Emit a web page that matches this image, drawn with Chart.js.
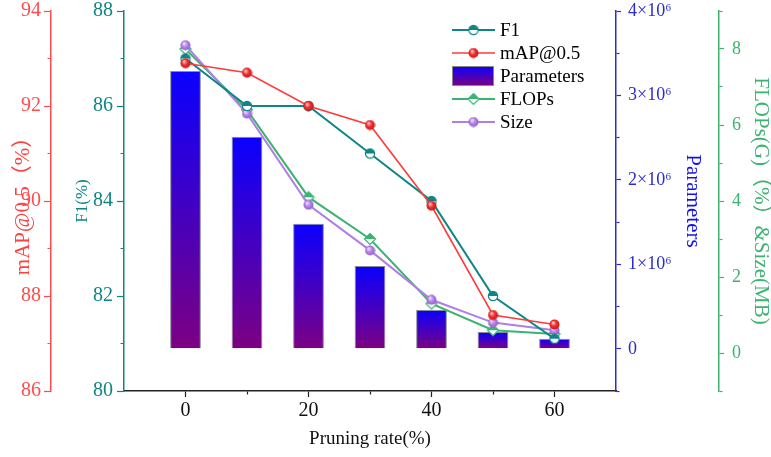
<!DOCTYPE html>
<html>
<head>
<meta charset="utf-8">
<script src="https://cdn.jsdelivr.net/npm/chart.js@4.4.1/dist/chart.umd.min.js"></script>
<style>
  body { margin: 0; background: #fff; }
  canvas { display: block; }
</style>
</head>
<body>
<canvas id="chart" width="771" height="457"></canvas>
<script>
// pruning rate (%) on the x axis
const pruningRates = [0, 10, 20, 30, 40, 50, 60];
const f1Values = [87.0, 86.0, 86.0, 85.0, 84.0, 82.0, 81.1];
const mapValues = [92.9, 92.7, 92.0, 91.6, 89.9, 87.6, 87.4];
const paramValues = [3.29e6, 2.51e6, 1.48e6, 0.98e6, 0.46e6, 0.20e6, 0.12e6];
const flopsValues = [8.0, 6.4, 4.1, 3.0, 1.3, 0.6, 0.5];
const sizeValues = [8.1, 6.3, 3.9, 2.7, 1.4, 0.8, 0.6];

const serif = "'Liberation Serif', 'Times New Roman', 'Noto Sans CJK SC', serif";
const TEAL = "#0f8585";
const RED = "#ff3b3b";
const BLUE = "#2b2bd0";
const GREEN = "#3cb371";
const PURPLE = "#b07ee6";

const pts = (vals) => pruningRates.map((x, i) => ({ x: x, y: vals[i] }));

// marker images
function ball(light, mid, dark) {
    const c = document.createElement("canvas");
    c.width = 11; c.height = 11;
    const g = c.getContext("2d");
    const grad = g.createRadialGradient(4, 3.6, 0.5, 5.5, 5.5, 5.5);
    grad.addColorStop(0, light);
    grad.addColorStop(0.45, mid);
    grad.addColorStop(1, dark);
    g.fillStyle = grad;
    g.beginPath(); g.arc(5.5, 5.5, 5, 0, Math.PI * 2); g.fill();
    return c;
}
function halfCircle(color) {
    const c = document.createElement("canvas");
    c.width = 12; c.height = 12;
    const g = c.getContext("2d");
    g.fillStyle = "#fff";
    g.beginPath(); g.arc(6, 6, 4.6, 0, Math.PI * 2); g.fill();
    g.fillStyle = color;
    g.beginPath(); g.arc(6, 6, 4.6, Math.PI, 0); g.closePath(); g.fill();
    g.strokeStyle = color; g.lineWidth = 1.2;
    g.beginPath(); g.arc(6, 6, 4.6, 0, Math.PI * 2); g.stroke();
    return c;
}
function halfDiamond(color) {
    const c = document.createElement("canvas");
    c.width = 14; c.height = 14;
    const g = c.getContext("2d");
    g.fillStyle = "#fff";
    g.beginPath(); g.moveTo(7, 1.5); g.lineTo(12.5, 7); g.lineTo(7, 12.5); g.lineTo(1.5, 7); g.closePath(); g.fill();
    g.fillStyle = color;
    g.beginPath(); g.moveTo(7, 1.5); g.lineTo(12.5, 7); g.lineTo(1.5, 7); g.closePath(); g.fill();
    g.strokeStyle = color; g.lineWidth = 1.2;
    g.beginPath(); g.moveTo(7, 1.5); g.lineTo(12.5, 7); g.lineTo(7, 12.5); g.lineTo(1.5, 7); g.closePath(); g.stroke();
    return c;
}

const f1Marker = halfCircle(TEAL);
const mapMarker = ball("#ffc0c0", "#f03030", "#c81010");
const flopsMarker = halfDiamond(GREEN);
const sizeMarker = ball("#eedcff", "#b584e8", "#8f5ccc");

function barGradient(g, top, bottom) {
    const grad = g.createLinearGradient(0, top, 0, bottom);
    grad.addColorStop(0, "#0a00ff");
    grad.addColorStop(1, "#7d0082");
    return grad;
}

// minor ticks are drawn at half length with a dash pattern
const minorIn = (isMinor) => (ctx) => (ctx.tick && isMinor(ctx.tick.value)) ? [0, 3.5, 3.5, 100] : [];
const minorOut = (isMinor) => (ctx) => (ctx.tick && isMinor(ctx.tick.value)) ? [3, 100] : [];

// fixed axis box sizes, no extra label overflow padding
const fixWidth = (w) => (s) => { s.width = w; s.paddingTop = 0; s.paddingBottom = 0; };

const legendPlugin = {
    id: "sideLegend",
    afterDraw(chart) {
        const g = chart.ctx;
        const rows = [30, 53, 76, 99, 122];
        g.save();
        chart.data.datasets.forEach((ds, i) => {
            const y = rows[i];
            if (ds.type === "bar") {
                g.fillStyle = barGradient(g, y - 10, y + 10);
                g.fillRect(452, y - 10, 42, 20);
                g.strokeStyle = "#888"; g.lineWidth = 1;
                g.strokeRect(452.5, y - 9.5, 41, 19);
            } else {
                g.strokeStyle = ds.borderColor; g.lineWidth = ds.borderWidth;
                g.beginPath(); g.moveTo(452, y); g.lineTo(495, y); g.stroke();
                const m = ds.pointStyle;
                g.drawImage(m, 473.5 - m.width / 2, y - m.height / 2);
            }
            g.fillStyle = "#000";
            g.font = "19px " + serif;
            g.textBaseline = "middle";
            g.textAlign = "left";
            g.fillText(ds.label, 500, y + 1);
        });
        g.restore();
    }
};

new Chart(document.getElementById("chart"), {
    data: {
        datasets: [
            {
                type: "line", label: "F1", data: pts(f1Values), yAxisID: "yF1",
                borderColor: TEAL, borderWidth: 2, pointStyle: f1Marker, order: 1
            },
            {
                type: "line", label: "mAP@0.5", data: pts(mapValues), yAxisID: "yMap",
                borderColor: RED, borderWidth: 1.6, pointStyle: mapMarker, order: 0
            },
            {
                type: "bar", label: "Parameters", data: pts(paramValues), yAxisID: "yParams",
                backgroundColor: (ctx) => {
                    const s = ctx.chart.scales.yParams;
                    if (!s || !ctx.parsed) return "#3000c0";
                    const top = s.getPixelForValue(ctx.parsed.y);
                    const bottom = s.getPixelForValue(0);
                    if (!isFinite(top) || !isFinite(bottom) || top === bottom) return "#3000c0";
                    return barGradient(ctx.chart.ctx, top, bottom);
                },
                borderColor: "#8a8a9a", borderWidth: 1,
                barPercentage: 0.5, categoryPercentage: 1, order: 10
            },
            {
                type: "line", label: "FLOPs", data: pts(flopsValues), yAxisID: "yFlops",
                borderColor: GREEN, borderWidth: 2, pointStyle: flopsMarker, order: 3
            },
            {
                type: "line", label: "Size", data: pts(sizeValues), yAxisID: "yFlops",
                borderColor: PURPLE, borderWidth: 2, pointStyle: sizeMarker, order: 2
            }
        ]
    },
    options: {
        responsive: false,
        animation: false,
        layout: { padding: { top: 11, bottom: 0, left: 0, right: 0 } },
        plugins: { legend: { display: false }, tooltip: { enabled: false } },
        elements: { line: { tension: 0 } },
        scales: {
            x: {
                type: "linear", position: "bottom", min: -10, max: 70, offset: false,
                afterBuildTicks: (s) => { s.ticks = s.ticks.filter(t => t.value >= 0 && t.value <= 60); },
                afterFit: (s) => { s.height = 66; s.paddingLeft = 0; s.paddingRight = 0; },
                ticks: {
                    stepSize: 10, autoSkip: false, color: "#111", padding: 4,
                    font: { family: serif, size: 20, lineHeight: 1 },
                    callback: (v) => v % 20 === 0 ? String(v) : ""
                },
                grid: {
                    offset: false, drawOnChartArea: false, tickLength: 6, tickColor: "#222", tickWidth: 1.2,
                    tickBorderDash: minorOut(v => v % 20 !== 0)
                },
                border: { color: "#222", width: 1.5 },
                title: {
                    display: true, text: "Pruning rate(%)", color: "#111",
                    font: { family: serif, size: 19 }, padding: { top: 0, bottom: 7 }
                }
            },
            yF1: {
                position: "left", weight: 0, min: 80, max: 88,
                afterFit: fixWidth(73),
                ticks: {
                    stepSize: 1, autoSkip: false, color: TEAL, padding: 4,
                    font: { family: serif, size: 20, lineHeight: 1 },
                    callback: (v) => v % 2 === 0 ? String(v) : ""
                },
                grid: {
                    drawOnChartArea: false, tickLength: 7, tickColor: TEAL, tickWidth: 1.2,
                    tickBorderDash: minorIn(v => v % 2 !== 0)
                },
                border: { color: TEAL, width: 1.5 },
                title: {
                    display: true, text: "F1(%)", color: TEAL,
                    font: { family: serif, size: 17 }, padding: { top: 21, bottom: 0 }
                }
            },
            yMap: {
                position: "left", weight: 1, min: 86, max: 94,
                afterFit: fixWidth(51),
                ticks: {
                    stepSize: 1, autoSkip: false, color: "#ff4d4d", padding: 3,
                    font: { family: serif, size: 20, lineHeight: 1 },
                    callback: (v) => v % 2 === 0 ? String(v) : ""
                },
                grid: {
                    drawOnChartArea: false, tickLength: 7, tickColor: "#ff4d4d", tickWidth: 1.2,
                    tickBorderDash: minorIn(v => v % 2 !== 0)
                },
                border: { color: "#ff4d4d", width: 1.5 },
                title: {
                    display: true, text: "mAP@0.5（%）", color: "#ff4040",
                    font: { family: serif, size: 21 }, padding: { top: 11, bottom: 0 }
                }
            },
            yParams: {
                position: "right", weight: 0, min: -0.5e6, max: 4e6,
                afterFit: fixWidth(103),
                ticks: {
                    stepSize: 0.5e6, autoSkip: false, color: BLUE, padding: 7,
                    font: { family: serif, size: 18, lineHeight: 1 },
                    callback: (v) => (v >= 0 && v % 1e6 === 0) ? (v === 0 ? "0" : (v / 1e6) + "×10⁶") : ""
                },
                grid: {
                    drawOnChartArea: false, tickLength: 5, tickColor: BLUE, tickWidth: 1.2,
                    tickBorderDash: minorOut(v => v % 1e6 !== 0)
                },
                border: { color: BLUE, width: 1.5 },
                title: {
                    display: true, text: "Parameters", color: "#1010f0",
                    font: { family: serif, size: 21 }, padding: { top: 14, bottom: 0 }
                }
            },
            yFlops: {
                position: "right", weight: 1, min: -1, max: 9,
                afterFit: fixWidth(52),
                ticks: {
                    stepSize: 1, autoSkip: false, color: GREEN, padding: 8,
                    font: { family: serif, size: 18, lineHeight: 1 },
                    callback: (v) => (v >= 0 && v % 2 === 0) ? String(v) : ""
                },
                grid: {
                    drawOnChartArea: false, tickLength: 5, tickColor: GREEN, tickWidth: 1.2,
                    tickBorderDash: minorOut(v => v % 2 !== 0)
                },
                border: { color: GREEN, width: 1.5 },
                title: {
                    display: true, text: "FLOPs(G)（%）&Size(MB)", color: GREEN,
                    font: { family: serif, size: 21, lineHeight: 1 }, padding: { top: 0, bottom: 0 }
                }
            }
        }
    },
    plugins: [legendPlugin]
});
</script>
</body>
</html>
